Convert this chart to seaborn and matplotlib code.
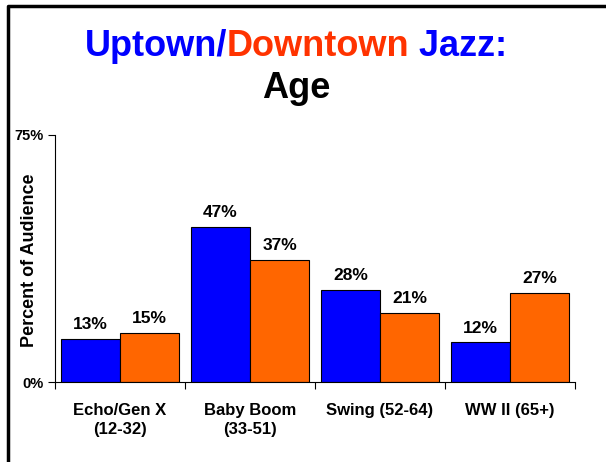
import matplotlib
matplotlib.use('Agg')
import matplotlib.pyplot as plt
import pandas as pd
import seaborn as sns
from matplotlib.lines import Line2D

CATEGORIES = ['Echo/Gen X\n(12-32)', 'Baby Boom\n(33-51)', 'Swing (52-64)', 'WW II (65+)']
UPTOWN = [13, 47, 28, 12]
DOWNTOWN = [15, 37, 21, 27]
SERIES = ['Uptown', 'Downtown']
COLORS = {'Uptown': '#0000FF', 'Downtown': '#FF6600'}

W, H = 606, 462

sns.set_theme(style='white')
plt.rcParams['font.family'] = ['Liberation Sans', 'DejaVu Sans']
plt.rcParams['font.weight'] = 'bold'

df = pd.DataFrame({
    'category': CATEGORIES * 2,
    'series': [SERIES[0]] * 4 + [SERIES[1]] * 4,
    'value': UPTOWN + DOWNTOWN,
})

fig = plt.figure(figsize=(W / 100, H / 100), dpi=100)
ax = fig.add_axes([55 / W, (H - 382) / H, 520 / W, 247 / H])

sns.barplot(data=df, x='category', y='value', hue='series', palette=COLORS,
            saturation=1, width=0.91, gap=0, edgecolor='black', linewidth=0.8,
            legend=False, ax=ax)

for cont in ax.containers:
    ax.bar_label(cont, fmt='%d%%', padding=5, fontsize=12.5, fontweight='bold',
                 color='black')

ax.set_ylim(0, 75)
ax.set_xlim(-0.5, len(CATEGORIES) - 0.5)
ax.set_yticks([0, 75])
ax.set_yticklabels(['0%', '75%'], fontsize=10.5, fontweight='bold')
ax.set_xticks([i - 0.5 for i in range(len(CATEGORIES) + 1)])
ax.set_xticklabels([])
ax.set_xticks(range(len(CATEGORIES)), minor=True)
ax.set_xticklabels(CATEGORIES, minor=True, fontsize=12, fontweight='bold',
                   linespacing=1.35)
ax.tick_params(axis='x', which='minor', length=0, pad=15)
ax.tick_params(axis='both', which='major', direction='out', length=5,
               width=0.8, color='black', bottom=True, left=True,
               labelcolor='black')
ax.tick_params(axis='x', which='minor', labelcolor='black')
ax.set_xlabel('')
ax.set_ylabel('Percent of Audience', fontsize=13, fontweight='bold', color='black')
ax.yaxis.set_label_coords((38 - 55) / 520, 0.494)
sns.despine(ax=ax)
for s in ['left', 'bottom']:
    ax.spines[s].set_color('black')
    ax.spines[s].set_linewidth(0.8)

# frame of the slide (only left and top edges visible)
fig.add_artist(Line2D([8 / W, 8 / W, 1.05], [-0.05, 1 - 6 / H, 1 - 6 / H],
                      color='black', lw=2.5, transform=fig.transFigure))

# multi-coloured title
parts = [('Uptown/', '#0000FF'), ('Downtown', '#FF3300'), (' Jazz:', '#0000FF')]
texts = [fig.text(0, 1 - 46 / H, t, color=c, fontsize=26, fontweight='bold',
                  va='center', ha='left') for t, c in parts]
fig.canvas.draw()
r = fig.canvas.get_renderer()
widths = [t.get_window_extent(r).width for t in texts]
x = 296 - sum(widths) / 2
for t, w in zip(texts, widths):
    t.set_x(x / W)
    x += w
fig.text(296 / W, 1 - 89 / H, 'Age', fontsize=26, fontweight='bold',
         ha='center', va='center', color='black')

fig.savefig('out.png', dpi=100)
